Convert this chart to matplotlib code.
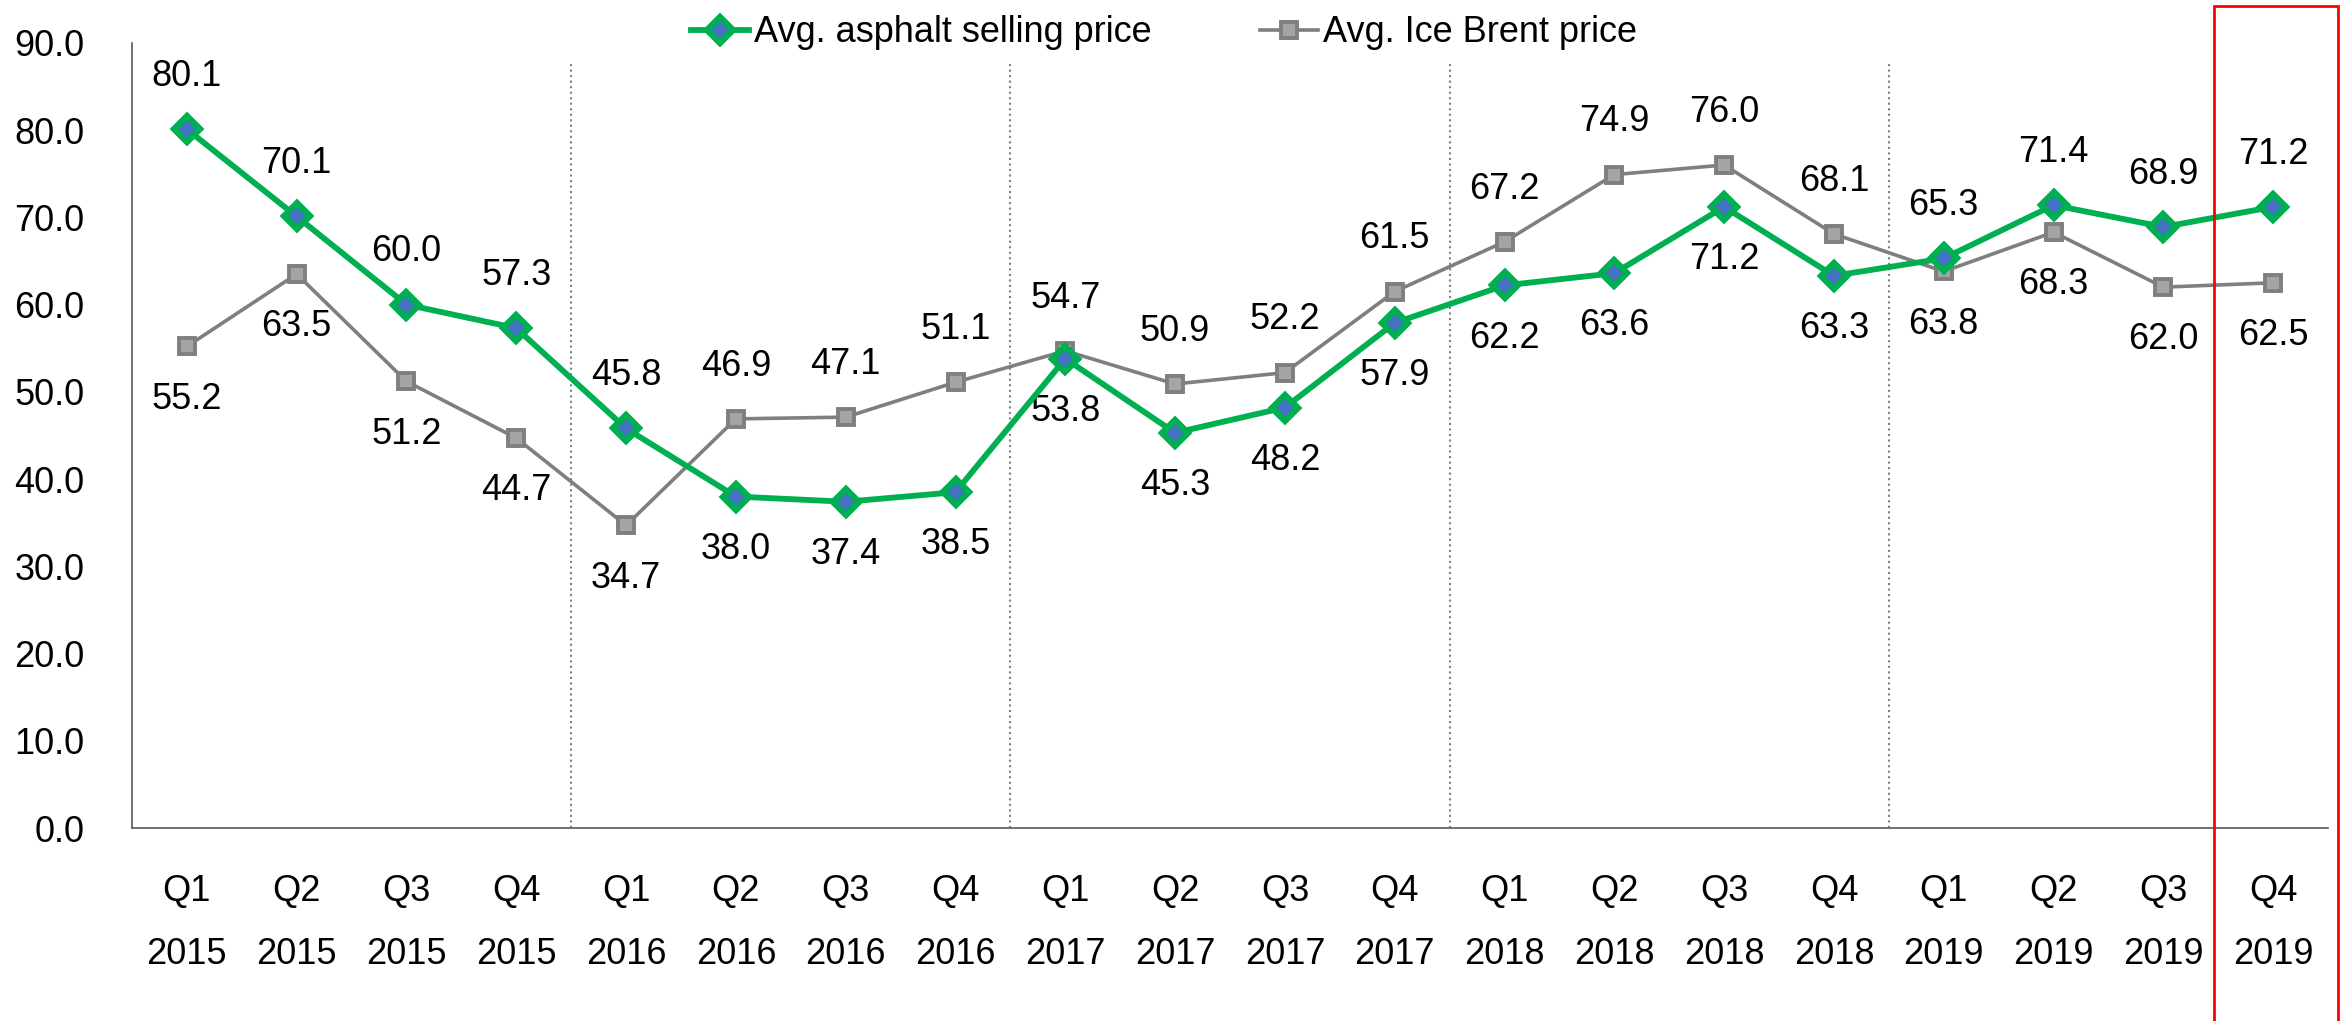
import matplotlib
matplotlib.use("Agg")
import matplotlib.pyplot as plt
from matplotlib.patches import Rectangle

plt.rcParams['font.family'] = ['Liberation Sans', 'DejaVu Sans']

quarters = ['Q1', 'Q2', 'Q3', 'Q4'] * 5
years = ['2015'] * 4 + ['2016'] * 4 + ['2017'] * 4 + ['2018'] * 4 + ['2019'] * 4
asphalt = [80.1, 70.1, 60.0, 57.3, 45.8, 38.0, 37.4, 38.5, 53.8, 45.3,
           48.2, 57.9, 62.2, 63.6, 71.2, 63.3, 65.3, 71.4, 68.9, 71.2]
brent = [55.2, 63.5, 51.2, 44.7, 34.7, 46.9, 47.1, 51.1, 54.7, 50.9,
         52.2, 61.5, 67.2, 74.9, 76.0, 68.1, 63.8, 68.3, 62.0, 62.5]
# which side of the point each value label sits on (1 above, -1 below)
asphalt_side = [1] * 5 + [-1] * 11 + [1] * 4
brent_side = [-1] * 5 + [1] * 11 + [-1] * 4

green = '#00B050'
grey = '#7F7F7F'
fs = 26

fig = plt.figure(figsize=(23.44, 10.21), dpi=100)
ax = fig.add_axes([0.0563, 0.189, 0.9369, 0.769])

x = list(range(len(asphalt)))

ax.plot(x, brent, color=grey, lw=2.6, marker='s', ms=11,
        mfc='#A5A5A5', mec=grey, mew=2.8, label='Avg. Ice Brent price', zorder=3)
ax.plot(x, asphalt, color=green, lw=4.2, marker='D', ms=13,
        mfc='#4472C4', mec=green, mew=4.5, label='Avg. asphalt selling price', zorder=4)

for i in x:
    ax.annotate(f'{asphalt[i]:.1f}', (i, asphalt[i]), xytext=(0, 38 * asphalt_side[i]),
                textcoords='offset points', ha='center', va='center', fontsize=fs)
    ax.annotate(f'{brent[i]:.1f}', (i, brent[i]), xytext=(0, 38 * brent_side[i]),
                textcoords='offset points', ha='center', va='center', fontsize=fs)

# dotted year separators
ax.vlines([3.5, 7.5, 11.5, 15.5], 0, 87.7, colors='#808080', linestyles=':', lw=1.5)

ax.set_xlim(-0.5, len(x) - 0.5)
ax.set_ylim(0, 90)
ax.set_yticks(range(0, 91, 10))
ax.set_yticklabels([f'{v:.1f}' for v in range(0, 91, 10)])
ax.set_xticks(x)
ax.set_xticklabels([f'{q}\n{y}' for q, y in zip(quarters, years)], linespacing=2.05)
ax.tick_params(axis='both', length=0, labelsize=fs)
ax.tick_params(axis='x', pad=33)
ax.tick_params(axis='y', pad=34)

for s in ['top', 'right']:
    ax.spines[s].set_visible(False)
for s in ['left', 'bottom']:
    ax.spines[s].set_color('#595959')
    ax.spines[s].set_linewidth(1.2)

h, l = ax.get_legend_handles_labels()
fig.legend(h[::-1], l[::-1], loc='center', bbox_to_anchor=(0.4966, 0.968), ncol=2,
           frameon=False, fontsize=fs, handlelength=1.6, handletextpad=0.15,
           columnspacing=3.0)

# highlight box on the last quarter
fig.patches.append(Rectangle((0.9445, -0.01), 0.0529, 1.004, transform=fig.transFigure,
                             fill=False, edgecolor='#FF0000', lw=2))

fig.savefig('out.png', dpi=100)
